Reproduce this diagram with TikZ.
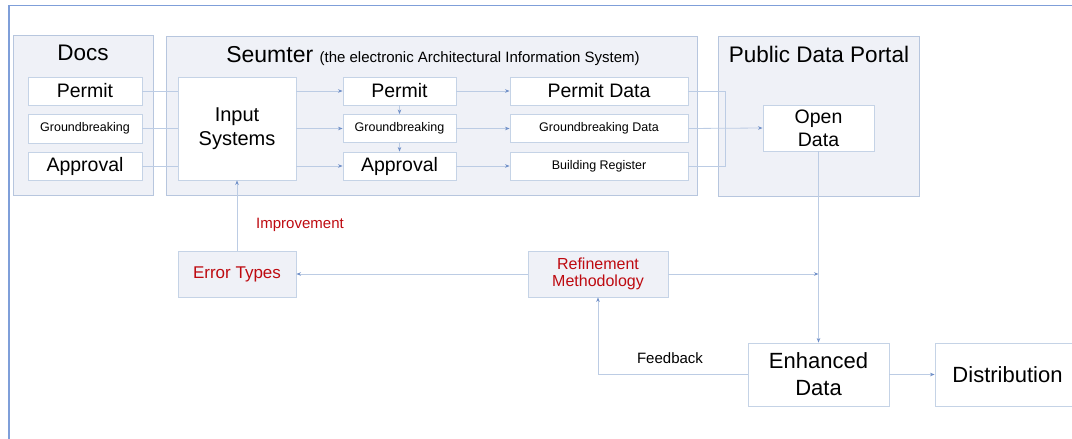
\documentclass[tikz,border=0pt]{standalone}
\usepackage{fontspec}
\setmainfont{Liberation Sans}
\usetikzlibrary{arrows.meta,calc}
\definecolor{frame}{HTML}{7F9FD9}
\definecolor{panelfill}{HTML}{EFF1F7}
\definecolor{panelline}{HTML}{B7C6DE}
\definecolor{boxline}{HTML}{C5D3E6}
\definecolor{conn}{HTML}{BCCCE4}
\definecolor{tip}{HTML}{6F8FC8}
\definecolor{redtext}{HTML}{BE0A10}
\tikzset{
  panel/.style={draw=panelline, fill=panelfill, line width=0.9pt, inner sep=0pt},
  wbox/.style={draw=boxline, fill=white, line width=0.9pt, inner sep=0pt, align=center},
  gbox/.style={draw=boxline, fill=panelfill, line width=0.9pt, inner sep=0pt, align=center, text=redtext},
  conline/.style={draw=conn, line width=0.8pt},
  arr/.style={conline, -{Stealth[length=4.5pt,width=3.5pt,color=tip]}},
  big/.style={font=\fontsize{19.5}{23}\selectfont},
  small/.style={font=\fontsize{12.5}{15}\selectfont},
  title/.style={font=\fontsize{22.5}{26}\selectfont},
}
\begin{document}
\begin{tikzpicture}[x=1pt,y=-1pt]
\useasboundingbox (0,0) rectangle (1072,439);
\clip (0,0) rectangle (1072,439);
% outer frame
\draw[frame, line width=1.6pt] (9,450) -- (9,5.5) -- (1090,5.5);
% panels
\node[panel, minimum width=140, minimum height=160] (docs) at (83,115) {};
\node[panel, minimum width=531, minimum height=159] (seum) at (432,115.5) {};
\node[panel, minimum width=201, minimum height=160] (pdp) at (818.5,116) {};
\node[title] (docsT) at (83,53) {Docs};
\node[anchor=base] (seumT) at (433,62) {\fontsize{23}{26}\selectfont Seumter \fontsize{15}{17}\selectfont(the electronic Architectural Information System)};
\node[title] (pdpT) at (819,54) {Public Data Portal};
% docs boxes
\node[wbox, big, minimum width=114, minimum height=28] (dp) at (85,91) {Permit};
\node[wbox, small, minimum width=114, minimum height=29] (dg) at (85,128.5) {Groundbreaking};
\node[wbox, big, minimum width=114, minimum height=28] (da) at (85,166) {Approval};
% input
\node[wbox, font=\fontsize{20}{23.5}\selectfont, minimum width=118, minimum height=103] (inp) at (237,128.5) {Input\\Systems};
% mid boxes
\node[wbox, big, minimum width=113, minimum height=28] (mp) at (399.5,91) {Permit};
\node[wbox, small, minimum width=113, minimum height=28] (mg) at (399.5,128.5) {Groundbreaking};
\node[wbox, big, minimum width=113, minimum height=28] (ma) at (399.5,166) {Approval};
% right boxes
\node[wbox, big, minimum width=178, minimum height=28] (rp) at (599,91) {Permit Data};
\node[wbox, small, minimum width=178, minimum height=28] (rg) at (599,128.5) {Groundbreaking Data};
\node[wbox, small, minimum width=178, minimum height=28] (rb) at (599,166) {Building Register};
% open data
\node[wbox, big, minimum width=111, minimum height=46] (open) at (818.5,128) {Open\\Data};
% lower
\node[gbox, font=\fontsize{17}{20}\selectfont, minimum width=118, minimum height=46] (err) at (237,274) {Error Types};
\node[gbox, font=\fontsize{16}{17.5}\selectfont, minimum width=140, minimum height=46] (ref) at (598,274) {Refinement\\Methodology};
\node[wbox, font=\fontsize{22}{27}\selectfont, minimum width=141, minimum height=63] (enh) at (818.5,374.5) {Enhanced\\Data};
\node[wbox, font=\fontsize{22}{26}\selectfont, minimum width=145, minimum height=63] (dist) at (1007.5,374.5) {Distribution};
% labels
\node[text=redtext, font=\fontsize{15}{18}\selectfont] (impL) at (300,225) {Improvement};
\node[font=\fontsize{15}{18}\selectfont] (fbL) at (670,358) {Feedback};
% docs -> input
\draw[conline] (dp.east) -- (dp.east -| inp.west);
\draw[conline] (dg.east) -- (dg.east -| inp.west);
\draw[conline] (da.east) -- (da.east -| inp.west);
% input -> mid
\draw[arr] (mp.west -| inp.east) -- (mp.west);
\draw[arr] (mg.west -| inp.east) -- (mg.west);
\draw[arr] (ma.west -| inp.east) -- (ma.west);
% mid vertical
\draw[arr] (mp.south) -- (mg.north);
\draw[arr] (mg.south) -- (ma.north);
% mid -> right
\draw[arr] (mp.east) -- (rp.west);
\draw[arr] (mg.east) -- (rg.west);
\draw[arr] (ma.east) -- (rb.west);
% bus to open data
\coordinate (busT) at ($(rp.east)+(37,0)$);
\draw[conline] (rp.east) -- (busT) |- (rb.east);
\draw[arr] (rg.east) -- (open.west);
% open -> enhanced
\draw[arr] (open.south) -- (enh.north);
% refinement
\coordinate (j) at (open.south |- ref.east);
\draw[arr] (ref.east) -- (j);
\draw[arr] (ref.west) -- (err.east);
\draw[arr] (err.north) -- (inp.south);
% enhanced
\draw[arr] (enh.east) -- (dist.west);
\draw[arr] (enh.west) -| (ref.south);
\end{tikzpicture}
\end{document}
